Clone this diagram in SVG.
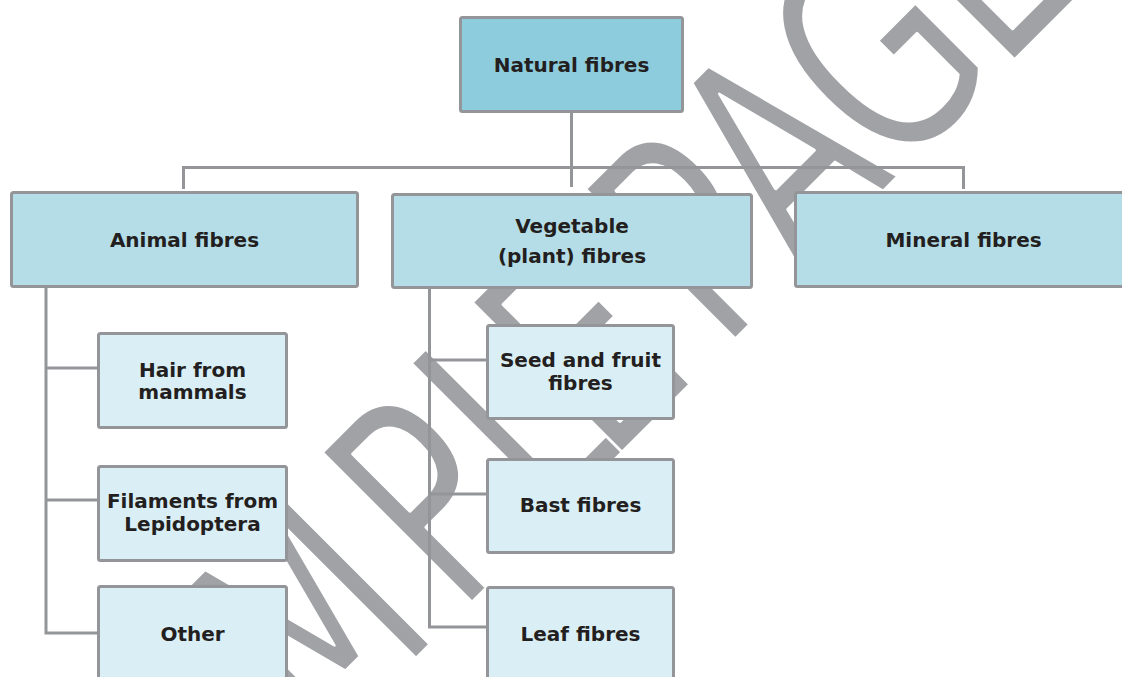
<svg xmlns="http://www.w3.org/2000/svg" width="1122" height="677" viewBox="0 0 1122 677">
<style>
.box{stroke:#939598;stroke-width:3;}
.top{fill:#8DCCDD;}
.mid{fill:#B5DDE7;}
.sub{fill:#DAEEF5;}
.lbl{font-family:"DejaVu Sans",Verdana,sans-serif;font-weight:bold;font-size:20px;fill:#231F20;text-anchor:middle;}
.conn{fill:none;stroke:#939598;stroke-width:3;}
.wm{font-family:"DejaVu Sans","Liberation Sans",sans-serif;font-size:292px;fill:#A1A2A6;stroke:#FFFFFF;stroke-width:4;stroke-linejoin:round;}
</style>
<g id="watermark">
<text class="wm" transform="translate(537.5 537.5) rotate(-45) scale(0.7 1)" x="-790 -603 -440 -160 20 143 326 372 532 719 936" y="0">SAMPLE PAGE</text>
</g>
<g id="connectors">
<path class="conn" d="M571.5 112 V187"/>
<path class="conn" d="M183.5 189 V167.5 H963.5 V189"/>
<path class="conn" d="M46 287 V633 H98 M46 368 H98 M46 500 H98"/>
<path class="conn" d="M429.5 288 V627 H487 M429.5 360 H487 M429.5 494 H487"/>
</g>
<g id="natural">
<rect class="box top" x="460.5" y="17.5" width="222" height="94" rx="2"/>
<text class="lbl" x="571.5" y="72">Natural fibres</text>
</g>
<g id="animal">
<rect class="box mid" x="11.5" y="192.5" width="346" height="94" rx="2"/>
<text class="lbl" x="184.5" y="247">Animal fibres</text>
</g>
<g id="vegetable">
<rect class="box mid" x="392.5" y="194.5" width="359" height="93" rx="2"/>
<text class="lbl" x="572" y="233">Vegetable</text>
<text class="lbl" x="572" y="263">(plant) fibres</text>
</g>
<g id="mineral">
<rect class="box mid" x="795.5" y="192.5" width="340" height="94" rx="2"/>
<text class="lbl" x="963.5" y="247">Mineral fibres</text>
</g>
<g id="hair">
<rect class="box sub" x="98.5" y="333.5" width="188" height="94" rx="2"/>
<text class="lbl" x="192.5" y="377">Hair from</text>
<text class="lbl" x="192.5" y="399">mammals</text>
</g>
<g id="filaments">
<rect class="box sub" x="98.5" y="466.5" width="188" height="94" rx="2"/>
<text class="lbl" x="192.5" y="508">Filaments from</text>
<text class="lbl" x="192.5" y="531">Lepidoptera</text>
</g>
<g id="other">
<rect class="box sub" x="98.5" y="586.5" width="188" height="110" rx="2"/>
<text class="lbl" x="192.5" y="641">Other</text>
</g>
<g id="seed">
<rect class="box sub" x="487.5" y="325.5" width="186" height="93" rx="2"/>
<text class="lbl" x="580.5" y="367">Seed and fruit</text>
<text class="lbl" x="580.5" y="390">fibres</text>
</g>
<g id="bast">
<rect class="box sub" x="487.5" y="459.5" width="186" height="93" rx="2"/>
<text class="lbl" x="580.5" y="512">Bast fibres</text>
</g>
<g id="leaf">
<rect class="box sub" x="487.5" y="587.5" width="186" height="110" rx="2"/>
<text class="lbl" x="580.5" y="641">Leaf fibres</text>
</g>
</svg>
